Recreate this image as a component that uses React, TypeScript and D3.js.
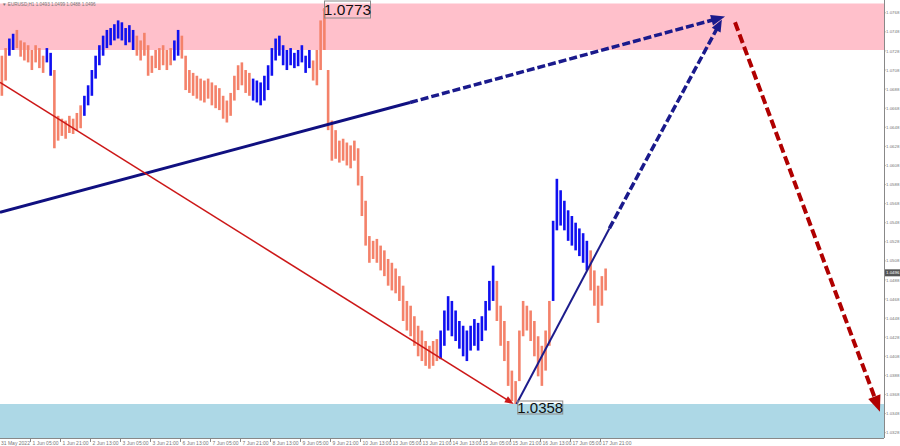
import React from 'react';
import * as d3 from 'd3';

// H1 bars, sampled every 2 bars: highs / lows (EURUSD)
const highs = [
  1.0723, 1.0731, 1.0741, 1.0746, 1.0750, 1.0739, 1.0737, 1.0734, 1.0729, 1.0734,
  1.0731, 1.0723, 1.0731, 1.0726, 1.0708, 1.0660, 1.0657, 1.0655, 1.0660, 1.0657,
  1.0663, 1.0671, 1.0681, 1.0692, 1.0708, 1.0723, 1.0734, 1.0744, 1.0750, 1.0752,
  1.0756, 1.0760, 1.0758, 1.0752, 1.0755, 1.0750, 1.0744, 1.0739, 1.0747, 1.0734,
  1.0723, 1.0729, 1.0731, 1.0734, 1.0729, 1.0731, 1.0739, 1.0750, 1.0744, 1.0723,
  1.0708, 1.0705, 1.0702, 1.0699, 1.0697, 1.0699, 1.0695, 1.0692, 1.0689, 1.0681,
  1.0676, 1.0684, 1.0702, 1.0713, 1.0716, 1.0708, 1.0705, 1.0699, 1.0697, 1.0695,
  1.0702, 1.0713, 1.0731, 1.0741, 1.0744, 1.0734, 1.0729, 1.0731, 1.0726, 1.0729,
  1.0734, 1.0723, 1.0729, 1.0718, 1.0729, 1.0760, 1.0773, 1.0708, 1.0655, 1.0645,
  1.0634, 1.0636, 1.0632, 1.0629, 1.0634, 1.0626, 1.0597, 1.0571, 1.0534, 1.0529,
  1.0531, 1.0524, 1.0519, 1.0510, 1.0506, 1.0500, 1.0492, 1.0482, 1.0466, 1.0461,
  1.0450, 1.0440, 1.0435, 1.0424, 1.0419, 1.0424, 1.0426, 1.0435, 1.0456, 1.0471,
  1.0466, 1.0456, 1.0445, 1.0440, 1.0435, 1.0440, 1.0447, 1.0443, 1.0450, 1.0466,
  1.0487, 1.0503, 1.0487, 1.0461, 1.0445, 1.0424, 1.0393, 1.0382, 1.0435, 1.0466,
  1.0461, 1.0456, 1.0445, 1.0429, 1.0419, 1.0435, 1.0466, 1.0550, 1.0594, 1.0582,
  1.0571, 1.0561, 1.0555, 1.0548, 1.0542, 1.0537, 1.0529, 1.0519, 1.0498, 1.0482,
  1.0492, 1.0500,
];
const lows = [
  1.0681, 1.0697, 1.0723, 1.0729, 1.0731, 1.0722, 1.0718, 1.0716, 1.0708, 1.0716,
  1.0710, 1.0705, 1.0716, 1.0702, 1.0626, 1.0634, 1.0639, 1.0636, 1.0642, 1.0641,
  1.0645, 1.0647, 1.0660, 1.0671, 1.0681, 1.0699, 1.0713, 1.0723, 1.0731, 1.0734,
  1.0739, 1.0741, 1.0739, 1.0734, 1.0737, 1.0729, 1.0723, 1.0718, 1.0723, 1.0702,
  1.0705, 1.0710, 1.0708, 1.0713, 1.0708, 1.0713, 1.0718, 1.0723, 1.0720, 1.0687,
  1.0684, 1.0681, 1.0678, 1.0676, 1.0674, 1.0678, 1.0671, 1.0668, 1.0666, 1.0657,
  1.0653, 1.0660, 1.0676, 1.0687, 1.0692, 1.0684, 1.0681, 1.0676, 1.0674, 1.0671,
  1.0676, 1.0687, 1.0702, 1.0718, 1.0723, 1.0713, 1.0708, 1.0713, 1.0710, 1.0712,
  1.0716, 1.0705, 1.0710, 1.0697, 1.0692, 1.0708, 1.0729, 1.0645, 1.0613, 1.0615,
  1.0611, 1.0613, 1.0608, 1.0605, 1.0613, 1.0587, 1.0555, 1.0524, 1.0506, 1.0510,
  1.0506, 1.0498, 1.0492, 1.0482, 1.0477, 1.0474, 1.0466, 1.0445, 1.0435, 1.0429,
  1.0419, 1.0408, 1.0403, 1.0398, 1.0395, 1.0398, 1.0403, 1.0405, 1.0419, 1.0435,
  1.0429, 1.0424, 1.0416, 1.0408, 1.0403, 1.0414, 1.0419, 1.0414, 1.0424, 1.0435,
  1.0456, 1.0466, 1.0445, 1.0419, 1.0403, 1.0377, 1.0361, 1.0358, 1.0382, 1.0429,
  1.0435, 1.0424, 1.0408, 1.0387, 1.0377, 1.0393, 1.0419, 1.0466, 1.0540, 1.0545,
  1.0540, 1.0529, 1.0524, 1.0519, 1.0513, 1.0506, 1.0498, 1.0477, 1.0461, 1.0443,
  1.0461, 1.0477,
];
// wave segments (sample index where each wave starts), alternating down / up
const waveStarts = [0, 2, 4, 12, 14, 22, 36, 46, 48, 67, 83, 117, 132, 147, 157];
const waveDirs = ['down', 'up', 'down', 'up', 'down', 'up', 'down', 'up', 'down', 'up', 'down', 'up', 'down', 'up', 'down'];

const xLabels = [
  '31 May 2022', '1 Jun 05:00', '1 Jun 21:00', '2 Jun 13:00', '3 Jun 05:00', '3 Jun 21:00',
  '6 Jun 13:00', '7 Jun 05:00', '7 Jun 21:00', '8 Jun 13:00', '9 Jun 05:00', '9 Jun 21:00',
  '10 Jun 13:00', '13 Jun 05:00', '13 Jun 21:00', '14 Jun 13:00', '15 Jun 05:00', '15 Jun 21:00',
  '16 Jun 13:00', '17 Jun 05:00', '17 Jun 21:00',
];
const yTicks = [
  1.0768, 1.0748, 1.0728, 1.0708, 1.0688, 1.0668, 1.0648, 1.0628, 1.0608, 1.0588, 1.0568, 1.0548,
  1.0528, 1.0508, 1.0488, 1.0468, 1.0448, 1.0428, 1.0408, 1.0388, 1.0368, 1.0348, 1.0328,
];
const headerText = '▼ EURUSD,H1  1.0493 1.0499 1.0488 1.0496';
const currentPrice = 1.0496;
const resistanceZone = [1.0729, 1.0800];
const supportZone = [1.0300, 1.0358];
const extremes = [
  { bar: 172, price: 1.0773, label: '1.0773' },
  { bar: 274, price: 1.0358, label: '1.0358' },
];
// wave lines: [bar, price] points
const longNavySolid = [[0, 1.0559], [218.7, 1.0674]];
const longNavyDash = [[218.7, 1.0674], [386.7, 1.0764]];
const redSolid = [[0, 1.0695], [274, 1.0358]];
const shortNavySolid = [[275.5, 1.0358], [325, 1.0542]];
const shortNavyDash = [[325, 1.0542], [385, 1.0761]];
const redDash = [[392, 1.0758], [469.3, 1.0350]];

function arrowHead(x1: number, y1: number, x2: number, y2: number, len: number, wid: number) {
  const a = Math.atan2(y2 - y1, x2 - x1);
  const bx = x2 - len * Math.cos(a), by = y2 - len * Math.sin(a);
  const px = -Math.sin(a) * wid / 2, py = Math.cos(a) * wid / 2;
  return `${x2},${y2} ${bx + px},${by + py} ${bx - px},${by - py}`;
}

export default function App() {
  const W = 900, H = 446, plotR = 884, plotB = 438, plotT = 3.5;
  const x = d3.scaleLinear().domain([0, 470]).range([0, 881.25]);
  const y = d3.scaleLinear().domain([1.0773, 1.0358]).range([8, 404]);
  const font = 'Liberation Sans, Arial, sans-serif';

  const colorOf = (i: number) => {
    let k = 0;
    for (let j = 0; j < waveStarts.length; j++) if (i >= waveStarts[j]) k = j;
    return waveDirs[k] === 'up' ? '#1010f0' : '#f4826a';
  };

  const line = (pts: number[][], color: string, w: number, dash?: string, arrow?: [number, number]) => {
    const [p1, p2] = pts;
    const x1 = x(p1[0]), y1 = y(p1[1]), x2 = x(p2[0]), y2 = y(p2[1]);
    let ex = x2, ey = y2;
    if (arrow) {
      const a = Math.atan2(y2 - y1, x2 - x1);
      ex = x2 - (arrow[0] * 0.8) * Math.cos(a);
      ey = y2 - (arrow[0] * 0.8) * Math.sin(a);
    }
    return (
      <g>
        <line x1={x1} y1={y1} x2={ex} y2={ey} stroke={color} strokeWidth={w} strokeDasharray={dash} />
        {arrow && <polygon points={arrowHead(x1, y1, x2, y2, arrow[0], arrow[1])} fill={color} />}
      </g>
    );
  };

  return (
    <svg width={W} height={H} style={{ position: 'absolute', left: 0, top: 0, background: '#fff' }}>
      <defs>
        <clipPath id="plot"><rect x={0} y={plotT} width={plotR} height={plotB - plotT} /></clipPath>
      </defs>
      <rect x={0} y={0} width={W} height={H} fill="#fff" />
      <g clipPath="url(#plot)">
        <rect x={0} y={y(resistanceZone[1])} width={plotR} height={y(resistanceZone[0]) - y(resistanceZone[1])} fill="#ffc0cb" />
        <rect x={0} y={y(supportZone[1])} width={plotR} height={y(supportZone[0]) - y(supportZone[1])} fill="#add8e6" />
        {highs.map((h, i) => (
          <rect key={i} x={x(2 * i + 1) - 1.3} y={y(h)} width={2.6} height={Math.max(1, y(lows[i]) - y(h))} fill={colorOf(i)} />
        ))}
        {line(longNavySolid, '#101080', 3)}
        {line(longNavyDash, '#1a1a8c', 3.5, '8 3', [14, 11])}
        {line(redSolid, '#cc1818', 1.6, undefined, [9, 7])}
        {line(shortNavySolid, '#1c1c8c', 2)}
        {line(shortNavyDash, '#1a1a8c', 3.5, '8 3', [12, 10])}
        {line(redDash, '#b00000', 4, '9 4', [16, 13])}
      </g>
      {/* extreme labels */}
      <line x1={x(extremes[0].bar)} y1={y(extremes[0].price) + 2} x2={x(extremes[0].bar) + 3} y2={y(extremes[0].price) + 2} stroke="#f4826a" strokeWidth={1} />
      <rect x={x(extremes[0].bar) + 2} y={1} width={46} height={17} fill="none" stroke="#8a8a8a" strokeWidth={1} />
      <text x={x(extremes[0].bar) + 25} y={15} fontSize={15.5} fontFamily={font} fill="#111" textAnchor="middle">{extremes[0].label}</text>
      <rect x={x(extremes[1].bar) + 4} y={y(extremes[1].price) - 3} width={45} height={13} fill="none" stroke="#8a8a8a" strokeWidth={1} />
      <text x={x(extremes[1].bar) + 26.5} y={y(extremes[1].price) + 8.5} fontSize={15} fontFamily={font} fill="#111" textAnchor="middle">{extremes[1].label}</text>
      {/* axes */}
      <line x1={plotR + 0.5} y1={0} x2={plotR + 0.5} y2={plotB} stroke="#888" strokeWidth={1} />
      <line x1={0} y1={plotB + 0.5} x2={plotR} y2={plotB + 0.5} stroke="#888" strokeWidth={1} />
      {yTicks.map((t) => (
        <g key={t}>
          <line x1={plotR} x2={plotR + 1.5} y1={y(t)} y2={y(t)} stroke="#888" />
          <text x={plotR + 2} y={y(t) + 1.6} fontSize={4.4} fontFamily={font} fill="#777">{t.toFixed(4)}</text>
        </g>
      ))}
      <rect x={plotR + 1} y={y(currentPrice) - 3} width={W - plotR - 1} height={7} fill="#555" />
      <text x={plotR + 2} y={y(currentPrice) + 1.8} fontSize={4.4} fontFamily={font} fill="#fff">{currentPrice.toFixed(4)}</text>
      {xLabels.map((l, k) => (
        <g key={l}>
          {k > 0 && <line x1={x(16 * k) + 0.5} x2={x(16 * k) + 0.5} y1={plotB} y2={plotB + 4} stroke="#888" />}
          <text x={x(16 * k) + (k > 0 ? 2.5 : 1)} y={plotB + 6.5} fontSize={5} fontFamily={font} fill="#777">{l}</text>
        </g>
      ))}
      <text x={2} y={5.5} fontSize={4.6} fontFamily={font} fill="#777">{headerText}</text>
    </svg>
  );
}
